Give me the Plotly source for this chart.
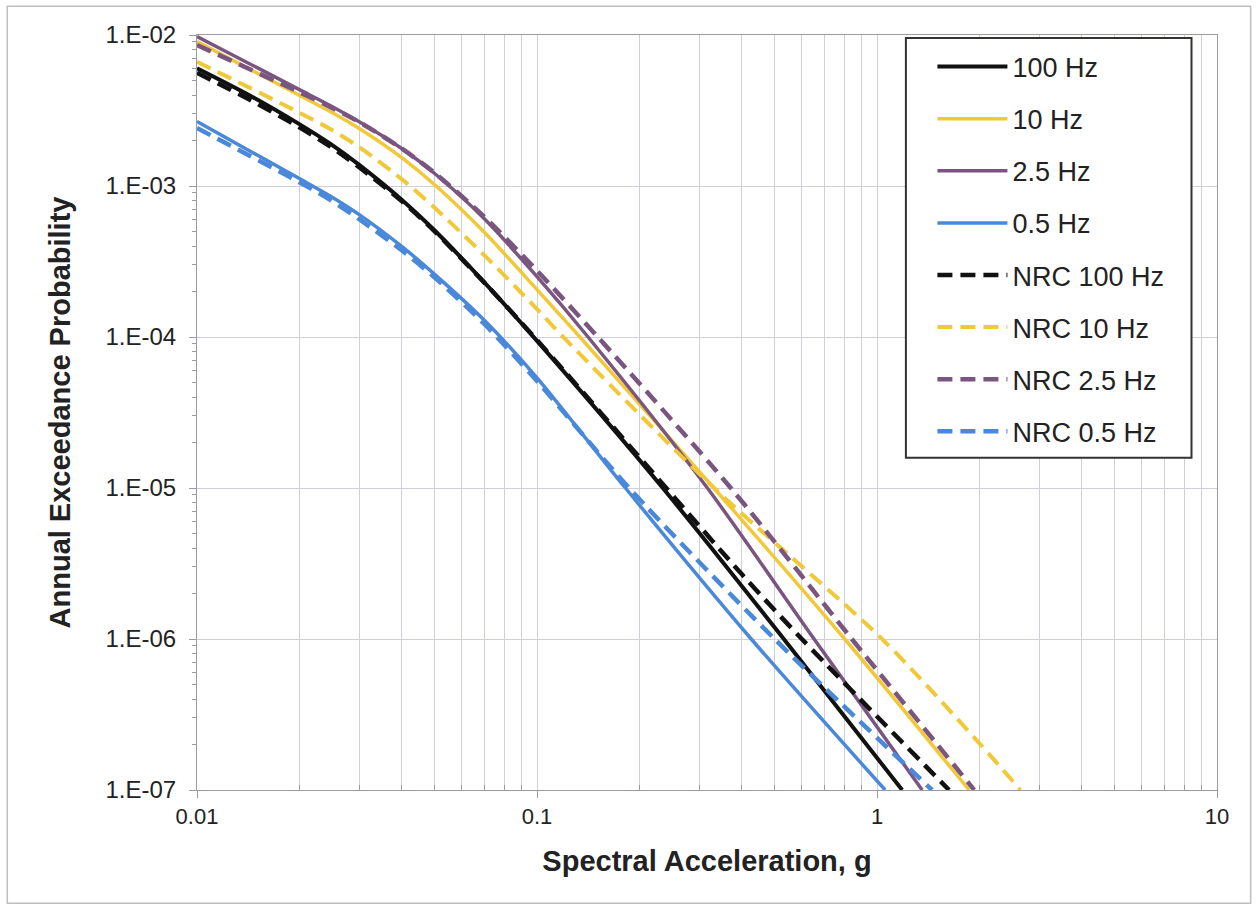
import plotly.graph_objects as go

# ---- data (x = spectral acceleration g, y = annual exceedance prob.)
x_100 = [0.01, 0.0143, 0.02, 0.0247, 0.03, 0.04, 0.05, 0.07, 0.1, 0.2344, 0.532, 1.186]
y_100 = [6.03e-3, 3.98e-3, 2.57e-3, 1.90e-3, 1.38e-3, 8.11e-4, 5.07e-4, 2.30e-4, 9.42e-5, 1.0e-5, 1.0e-6, 1.0e-7]

x_10 = [0.01, 0.02, 0.0247, 0.03, 0.04, 0.05, 0.07, 0.1, 0.1337, 0.3311, 0.8035, 1.866]
y_10 = [9.04e-3, 3.99e-3, 3.10e-3, 2.40e-3, 1.54e-3, 1.02e-3, 4.94e-4, 2.06e-4, 1.0e-4, 1.0e-5, 1.0e-6, 1.0e-7]

x_25 = [0.01, 0.02, 0.0247, 0.03, 0.04, 0.05, 0.07, 0.1, 0.1413, 0.317, 0.6531, 1.358]
y_25 = [9.77e-3, 4.35e-3, 3.40e-3, 2.66e-3, 1.77e-3, 1.21e-3, 6.07e-4, 2.51e-4, 1.0e-4, 1.0e-5, 1.0e-6, 1.0e-7]

x_05 = [0.01, 0.02, 0.0247, 0.03, 0.04, 0.05, 0.07, 0.1, 0.182, 0.4266, 1.057]
y_05 = [2.67e-3, 1.12e-3, 8.55e-4, 6.46e-4, 3.98e-4, 2.60e-4, 1.29e-4, 5.37e-5, 1.0e-5, 1.0e-6, 1.0e-7]

x_nrc100 = [0.01, 0.0143, 0.02, 0.0247, 0.03, 0.04, 0.05, 0.07, 0.1, 0.2399, 0.4, 0.601, 1.629]
y_nrc100 = [5.62e-3, 3.72e-3, 2.45e-3, 1.82e-3, 1.33e-3, 7.94e-4, 5.01e-4, 2.29e-4, 9.55e-5, 1.0e-5, 2.69e-6, 1.0e-6, 1.0e-7]

x_nrc10 = [0.01, 0.02, 0.0247, 0.03, 0.04, 0.05, 0.07, 0.1, 0.1194, 0.3319, 1.035, 2.0, 2.642]
y_nrc10 = [6.65e-3, 3.06e-3, 2.38e-3, 1.81e-3, 1.11e-3, 7.18e-4, 3.48e-4, 1.53e-4, 1.0e-4, 1.0e-5, 1.0e-6, 2.04e-7, 1.0e-7]

x_nrc25 = [0.01, 0.02, 0.0247, 0.03, 0.04, 0.05, 0.07, 0.1, 0.151, 0.3715, 0.8433, 1.932]
y_nrc25 = [8.59e-3, 4.18e-3, 3.33e-3, 2.65e-3, 1.77e-3, 1.22e-3, 6.25e-4, 2.75e-4, 1.0e-4, 1.0e-5, 1.0e-6, 1.0e-7]

x_nrc05 = [0.01, 0.02, 0.0247, 0.03, 0.04, 0.05, 0.07, 0.1, 0.1866, 0.5, 1.452]
y_nrc05 = [2.42e-3, 1.06e-3, 8.07e-4, 6.03e-4, 3.75e-4, 2.48e-4, 1.22e-4, 5.11e-5, 1.0e-5, 1.0e-6, 1.0e-7]

y_tickvals = [1e-2, 1e-3, 1e-4, 1e-5, 1e-6, 1e-7]
y_ticktext = ["1.E-02", "1.E-03", "1.E-04", "1.E-05", "1.E-06", "1.E-07"]
x_tickvals = [0.01, 0.1, 1, 10]
x_ticktext = ["0.01", "0.1", "1", "10"]

BLACK = "#111111"
YELLOW = "#f0c838"
PURPLE = "#7a5580"
BLUE = "#4a88da"
DASH = "15px,8px"

series = [
    ("100 Hz", x_100, y_100, BLACK, "solid", 4),
    ("10 Hz", x_10, y_10, YELLOW, "solid", 3.5),
    ("2.5 Hz", x_25, y_25, PURPLE, "solid", 3.5),
    ("0.5 Hz", x_05, y_05, BLUE, "solid", 3.5),
    ("NRC 100 Hz", x_nrc100, y_nrc100, BLACK, DASH, 4.5),
    ("NRC 10 Hz", x_nrc10, y_nrc10, YELLOW, DASH, 4),
    ("NRC 2.5 Hz", x_nrc25, y_nrc25, PURPLE, DASH, 4.5),
    ("NRC 0.5 Hz", x_nrc05, y_nrc05, BLUE, DASH, 4.5),
]

fig = go.Figure()
for i, (name, xs, ys, col, dash, w) in enumerate(series):
    fig.add_trace(go.Scatter(
        x=xs, y=ys, name=name, mode="lines",
        line=dict(color=col, width=w, dash=dash, shape="spline", smoothing=0.8),
        legendgroup=f"g{i}",
    ))

minor_x = [m * 10 ** e for e in (-2, -1, 0) for m in range(2, 10)]
minor_y = [m * 10 ** e for e in (-7, -6, -5, -4, -3) for m in range(2, 10)]

GRID = "#cfcfdc"
AXIS = "#9a9aa8"
FONT = "Liberation Sans, Arial, sans-serif"
TXT = "#222222"

fig.update_layout(
    width=1257, height=909,
    margin=dict(l=197, r=40, t=35, b=119),
    paper_bgcolor="white", plot_bgcolor="white",
    font=dict(family=FONT, size=20, color=TXT),
    showlegend=True,
    legend=dict(
        x=0.721, y=0.990, xanchor="left", yanchor="top",
        bgcolor="rgba(255,255,255,0)", borderwidth=0,
        font=dict(size=27, color=TXT),
        tracegroupgap=14, itemwidth=70,
    ),
    xaxis=dict(
        type="log", range=[-2, 1],
        tickmode="array", tickvals=x_tickvals, ticktext=x_ticktext,
        showgrid=True, gridcolor=GRID, gridwidth=1,
        showline=True, linecolor=AXIS, linewidth=1, mirror=True,
        ticks="outside", ticklen=7, tickcolor=AXIS,
        minor=dict(tickvals=minor_x, showgrid=True, gridcolor=GRID, gridwidth=1,
                   ticks="inside", ticklen=5, tickcolor=AXIS),
        tickfont=dict(size=22),
        title=dict(text="<b>Spectral Acceleration, g</b>",
                   font=dict(family=FONT, size=29, color=TXT),
                   standoff=22),
        zeroline=False,
    ),
    yaxis=dict(
        type="log", range=[-7, -2],
        tickmode="array", tickvals=y_tickvals, ticktext=y_ticktext,
        showgrid=True, gridcolor=GRID, gridwidth=1,
        showline=True, linecolor=AXIS, linewidth=1, mirror=True,
        ticks="outside", ticklen=7, tickcolor=AXIS,
        ticklabelstandoff=8,
        minor=dict(tickvals=minor_y, showgrid=False,
                   ticks="outside", ticklen=4, tickcolor=AXIS),
        tickfont=dict(size=24),
        title=dict(text="<b>Annual Exceedance Probability</b>",
                   font=dict(family=FONT, size=29, color=TXT),
                   standoff=26),
        zeroline=False,
    ),
    shapes=[
        dict(type="rect", xref="paper", yref="paper",
             x0=-0.186, x1=1.033, y0=-0.150, y1=1.038,
             line=dict(color="#bdbdc4", width=1.5), fillcolor="rgba(0,0,0,0)", layer="below"),
        dict(type="rect", xref="paper", yref="paper",
             x0=0.695, x1=0.975, y0=0.44, y1=0.996,
             line=dict(color="#333333", width=2), fillcolor="white", layer="above"),
    ],
)

fig.write_html("out.html")
